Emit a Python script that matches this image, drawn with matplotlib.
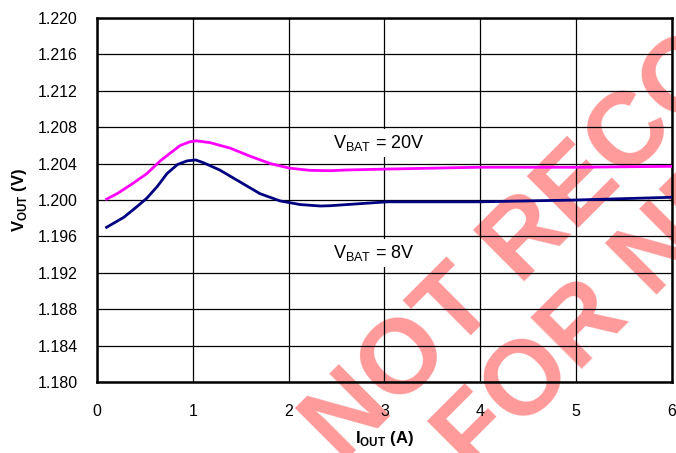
import matplotlib
matplotlib.use('Agg')
import matplotlib.pyplot as plt

plt.rcParams['font.family'] = ['Liberation Sans', 'DejaVu Sans']
plt.rcParams['mathtext.fontset'] = 'custom'
plt.rcParams['mathtext.rm'] = 'Liberation Sans'
plt.rcParams['mathtext.bf'] = 'Liberation Sans:bold'

# datos
iout_20 = [0.10, 0.21, 0.35, 0.52, 0.59, 0.66, 0.77, 0.87, 0.97, 1.04,
           1.18, 1.39, 1.60, 1.81, 2.01, 2.22, 2.43, 2.61, 3.03, 4.0,
           5.0, 6.0]
vout_20 = [1.2001, 1.2007, 1.20165, 1.2029, 1.2036, 1.2043, 1.2052,
           1.2060, 1.2064, 1.2065, 1.2063, 1.2057, 1.2048, 1.2040,
           1.2035, 1.20326, 1.20322, 1.2033, 1.2034, 1.2036, 1.2036,
           1.2037]

iout_8 = [0.10, 0.28, 0.42, 0.52, 0.63, 0.73, 0.84, 0.94, 1.03, 1.11,
          1.28, 1.49, 1.70, 1.91, 2.12, 2.33, 2.43, 2.61, 3.03, 4.0,
          5.0, 6.0]
vout_8 = [1.1970, 1.1981, 1.1993, 1.2002, 1.2015, 1.2029, 1.2039,
          1.2043, 1.2044, 1.2041, 1.2033, 1.2020, 1.2007, 1.1999,
          1.1995, 1.19934, 1.19937, 1.1995, 1.1998, 1.1998, 1.2000,
          1.2003]

xticks = [0, 1, 2, 3, 4, 5, 6]
yticks = [1.180, 1.184, 1.188, 1.192, 1.196, 1.200, 1.204, 1.208, 1.212,
          1.216, 1.220]

fig = plt.figure(figsize=(6.76, 4.53), dpi=100)
ax = fig.add_axes([0.1435, 0.1567, 0.8505, 0.8036])
ax.patch.set_visible(False)

ax.plot(iout_20, vout_20, color='#ff00ff', lw=2.0, zorder=3)
ax.plot(iout_8, vout_8, color='#000080', lw=2.0, zorder=3)

ax.set_xlim(0, 6)
ax.set_ylim(1.180, 1.220)
ax.set_xticks(xticks)
ax.set_yticks(yticks)
ax.set_yticklabels(['%.3f' % v for v in yticks])
ax.tick_params(length=0, labelsize=11.5)
ax.tick_params(axis='y', pad=14)
ax.tick_params(axis='x', pad=16)
ax.grid(True, color='black', lw=0.9)
ax.set_axisbelow(True)
for s in ax.spines.values():
    s.set_linewidth(1.8)

ax.set_xlabel(r'I$_{\mathbf{OUT}}$ (A)', fontsize=12, fontweight='bold', labelpad=7)
ax.set_ylabel(r'V$_{\mathbf{OUT}}$ (V)', fontsize=12, fontweight='bold', labelpad=6)

caja = dict(facecolor='white', edgecolor='none', pad=3)
ax.text(2.46, 1.2063, r'V$_{\mathrm{BAT}}$ = 20V', fontsize=13, va='center',
        ha='left', bbox=caja, zorder=2)
ax.text(2.46, 1.1942, r'V$_{\mathrm{BAT}}$ = 8V', fontsize=13, va='center',
        ha='left', bbox=caja, zorder=2)

# marca de agua
fig.text(0.507, -0.024, 'NOT RECOMMENDED', rotation=45, rotation_mode='anchor',
         ha='left', va='baseline', fontsize=76, fontweight='bold',
         color='#ff9a9a', zorder=-1)
fig.text(0.701, -0.053, 'FOR NEW DESIGNS', rotation=45, rotation_mode='anchor',
         ha='left', va='baseline', fontsize=76, fontweight='bold',
         color='#ff9a9a', zorder=-1)

fig.savefig('out.png', dpi=100)
